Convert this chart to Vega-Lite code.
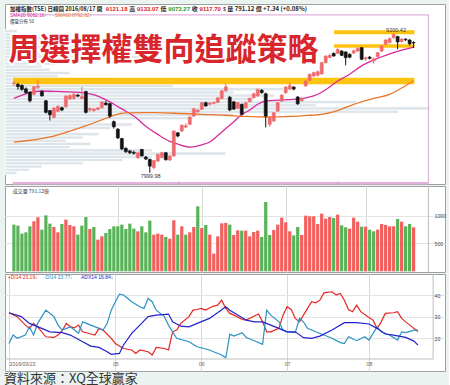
{
"$schema":"https://vega.github.io/schema/vega-lite/v6.json",
"background":"#eaf3ef",
"padding":{"left":4,"right":2,"top":3,"bottom":0},
"spacing":0,
"resolve":{"scale":{"color":"independent"}},
"title":{"text":"資料來源：XQ全球贏家","orient":"bottom","anchor":"start","fontSize":13,"font":"Noto Sans CJK TC","fontWeight":"normal","color":"#333333","offset":1},
"config":{"view":{"stroke":"#a0a0a0","fill":"#ffffff"},"axis":{"labelFont":"Liberation Sans"},"concat":{"spacing":0}},
"datasets":{
"k":[
{"i":0,"o":8768,"h":8790,"l":8748,"c":8772,"v":839,"u":0},
{"i":1,"o":8760,"h":8775,"l":8715,"c":8742,"v":821,"u":0},
{"i":2,"o":8752,"h":8760,"l":8705,"c":8718,"v":677,"u":0},
{"i":3,"o":8722,"h":8735,"l":8680,"c":8690,"v":701,"u":0},
{"i":4,"o":8695,"h":8700,"l":8605,"c":8620,"v":809,"u":0},
{"i":5,"o":8675,"h":8748,"l":8665,"c":8740,"v":899,"u":1},
{"i":6,"o":8735,"h":8800,"l":8720,"c":8745,"v":971,"u":1},
{"i":7,"o":8700,"h":8710,"l":8655,"c":8662,"v":749,"u":0},
{"i":8,"o":8620,"h":8625,"l":8510,"c":8520,"v":1007,"u":0},
{"i":9,"o":8535,"h":8540,"l":8450,"c":8500,"v":857,"u":0},
{"i":10,"o":8478,"h":8565,"l":8465,"c":8556,"v":797,"u":1},
{"i":11,"o":8528,"h":8580,"l":8520,"c":8572,"v":701,"u":1},
{"i":12,"o":8560,"h":8570,"l":8530,"c":8540,"v":851,"u":0},
{"i":13,"o":8568,"h":8668,"l":8560,"c":8660,"v":929,"u":1},
{"i":14,"o":8635,"h":8675,"l":8625,"c":8665,"v":833,"u":1},
{"i":15,"o":8640,"h":8690,"l":8630,"c":8675,"v":809,"u":1},
{"i":16,"o":8668,"h":8680,"l":8650,"c":8660,"v":659,"u":0},
{"i":17,"o":8640,"h":8738,"l":8632,"c":8655,"v":821,"u":0},
{"i":18,"o":8700,"h":8705,"l":8510,"c":8520,"v":977,"u":0},
{"i":19,"o":8540,"h":8565,"l":8525,"c":8552,"v":761,"u":1},
{"i":20,"o":8535,"h":8558,"l":8525,"c":8548,"v":797,"u":0},
{"i":21,"o":8545,"h":8565,"l":8538,"c":8558,"v":569,"u":1},
{"i":22,"o":8560,"h":8615,"l":8552,"c":8610,"v":629,"u":1},
{"i":23,"o":8600,"h":8620,"l":8580,"c":8585,"v":689,"u":0},
{"i":24,"o":8595,"h":8600,"l":8470,"c":8488,"v":761,"u":0},
{"i":25,"o":8440,"h":8450,"l":8380,"c":8395,"v":809,"u":0},
{"i":26,"o":8375,"h":8385,"l":8290,"c":8300,"v":809,"u":0},
{"i":27,"o":8295,"h":8300,"l":8195,"c":8205,"v":839,"u":0},
{"i":28,"o":8210,"h":8220,"l":8170,"c":8182,"v":761,"u":0},
{"i":29,"o":8188,"h":8195,"l":8160,"c":8172,"v":857,"u":0},
{"i":30,"o":8175,"h":8190,"l":8155,"c":8168,"v":767,"u":0},
{"i":31,"o":8130,"h":8180,"l":8120,"c":8172,"v":719,"u":1},
{"i":32,"o":8200,"h":8205,"l":8140,"c":8145,"v":809,"u":0},
{"i":33,"o":8135,"h":8145,"l":8110,"c":8118,"v":701,"u":0},
{"i":34,"o":8115,"h":8120,"l":7999.98,"c":8057,"v":911,"u":0},
{"i":35,"o":8045,"h":8110,"l":8030,"c":8105,"v":659,"u":1},
{"i":36,"o":8100,"h":8165,"l":8095,"c":8158,"v":677,"u":1},
{"i":37,"o":8130,"h":8180,"l":8125,"c":8172,"v":659,"u":1},
{"i":38,"o":8172,"h":8180,"l":8105,"c":8112,"v":617,"u":0},
{"i":39,"o":8110,"h":8150,"l":8100,"c":8144,"v":587,"u":1},
{"i":40,"o":8144,"h":8365,"l":8140,"c":8359,"v":917,"u":1},
{"i":41,"o":8344,"h":8350,"l":8305,"c":8316,"v":659,"u":0},
{"i":42,"o":8359,"h":8415,"l":8350,"c":8410,"v":809,"u":1},
{"i":43,"o":8393,"h":8425,"l":8385,"c":8405,"v":659,"u":0},
{"i":44,"o":8417,"h":8485,"l":8410,"c":8480,"v":701,"u":1},
{"i":45,"o":8488,"h":8560,"l":8480,"c":8551,"v":797,"u":1},
{"i":46,"o":8525,"h":8548,"l":8515,"c":8540,"v":1169,"u":0},
{"i":47,"o":8546,"h":8610,"l":8540,"c":8603,"v":779,"u":1},
{"i":48,"o":8603,"h":8612,"l":8570,"c":8575,"v":833,"u":0},
{"i":49,"o":8590,"h":8608,"l":8580,"c":8600,"v":659,"u":1},
{"i":50,"o":8598,"h":8612,"l":8590,"c":8605,"v":317,"u":1},
{"i":51,"o":8605,"h":8650,"l":8600,"c":8645,"v":629,"u":1},
{"i":52,"o":8640,"h":8715,"l":8632,"c":8705,"v":863,"u":1},
{"i":53,"o":8705,"h":8765,"l":8700,"c":8740,"v":869,"u":1},
{"i":54,"o":8650,"h":8660,"l":8530,"c":8540,"v":839,"u":0},
{"i":55,"o":8610,"h":8618,"l":8540,"c":8548,"v":653,"u":1},
{"i":56,"o":8555,"h":8610,"l":8550,"c":8603,"v":737,"u":1},
{"i":57,"o":8589,"h":8595,"l":8495,"c":8503,"v":731,"u":0},
{"i":58,"o":8560,"h":8610,"l":8550,"c":8603,"v":731,"u":1},
{"i":59,"o":8612,"h":8648,"l":8605,"c":8641,"v":629,"u":1},
{"i":60,"o":8646,"h":8690,"l":8640,"c":8680,"v":707,"u":1},
{"i":61,"o":8661,"h":8725,"l":8655,"c":8718,"v":731,"u":1},
{"i":62,"o":8710,"h":8720,"l":8680,"c":8690,"v":617,"u":0},
{"i":63,"o":8680,"h":8690,"l":8390,"c":8488,"v":1247,"u":0},
{"i":64,"o":8417,"h":8485,"l":8395,"c":8476,"v":653,"u":0},
{"i":65,"o":8445,"h":8525,"l":8440,"c":8517,"v":743,"u":1},
{"i":66,"o":8531,"h":8610,"l":8525,"c":8603,"v":839,"u":1},
{"i":67,"o":8617,"h":8675,"l":8610,"c":8669,"v":965,"u":1},
{"i":68,"o":8689,"h":8745,"l":8680,"c":8738,"v":881,"u":1},
{"i":69,"o":8720,"h":8775,"l":8715,"c":8750,"v":719,"u":1},
{"i":70,"o":8738,"h":8745,"l":8710,"c":8720,"v":647,"u":0},
{"i":71,"o":8652,"h":8660,"l":8585,"c":8594,"v":797,"u":0},
{"i":72,"o":8620,"h":8650,"l":8612,"c":8641,"v":653,"u":1},
{"i":73,"o":8747,"h":8800,"l":8740,"c":8790,"v":1001,"u":1},
{"i":74,"o":8796,"h":8855,"l":8790,"c":8848,"v":989,"u":1},
{"i":75,"o":8833,"h":8870,"l":8825,"c":8862,"v":989,"u":1},
{"i":76,"o":8840,"h":8880,"l":8830,"c":8870,"v":851,"u":1},
{"i":77,"o":8850,"h":8955,"l":8845,"c":8948,"v":1037,"u":1},
{"i":78,"o":8948,"h":9010,"l":8940,"c":9005,"v":947,"u":1},
{"i":79,"o":8992,"h":9025,"l":8985,"c":9010,"v":977,"u":1},
{"i":80,"o":9028,"h":9035,"l":9000,"c":9005,"v":959,"u":0},
{"i":81,"o":9028,"h":9070,"l":9020,"c":9063,"v":1019,"u":1},
{"i":82,"o":9048,"h":9055,"l":9005,"c":9011,"v":827,"u":0},
{"i":83,"o":9040,"h":9045,"l":8925,"c":8991,"v":791,"u":0},
{"i":84,"o":9020,"h":9028,"l":8985,"c":8995,"v":767,"u":1},
{"i":85,"o":9030,"h":9060,"l":9025,"c":9050,"v":965,"u":1},
{"i":86,"o":9048,"h":9078,"l":9040,"c":9071,"v":893,"u":1},
{"i":87,"o":9077,"h":9082,"l":8970,"c":8977,"v":803,"u":0},
{"i":88,"o":8980,"h":9000,"l":8965,"c":8990,"v":803,"u":1},
{"i":89,"o":8995,"h":9005,"l":8975,"c":8985,"v":749,"u":0},
{"i":90,"o":8962,"h":8990,"l":8940,"c":8980,"v":719,"u":0},
{"i":91,"o":9000,"h":9040,"l":8995,"c":9034,"v":749,"u":1},
{"i":92,"o":9048,"h":9100,"l":9040,"c":9091,"v":851,"u":1},
{"i":93,"o":9106,"h":9150,"l":9100,"c":9143,"v":833,"u":1},
{"i":94,"o":9120,"h":9165,"l":9115,"c":9155,"v":809,"u":1},
{"i":95,"o":9163,"h":9200.42,"l":9155,"c":9192,"v":809,"u":1},
{"i":96,"o":9172,"h":9180,"l":9063,"c":9126,"v":941,"u":0},
{"i":97,"o":9130,"h":9160,"l":9120,"c":9150,"v":893,"u":1},
{"i":98,"o":9150,"h":9158,"l":9135,"c":9145,"v":809,"u":0},
{"i":99,"o":9143,"h":9150,"l":9095,"c":9110.36,"v":851,"u":0},
{"i":100,"o":9121.18,"h":9133.07,"l":9073.27,"c":9117.70,"v":791.12,"u":1}
],
"sma":[
{"s":"20","i":0,"v":8641},{"s":"20","i":3,"v":8680},{"s":"20","i":7,"v":8704},{"s":"20","i":11,"v":8700},{"s":"20","i":15,"v":8695},{"s":"20","i":18,"v":8686},{"s":"20","i":21,"v":8660},{"s":"20","i":24,"v":8610},{"s":"20","i":26,"v":8570},{"s":"20","i":28,"v":8530},{"s":"20","i":30,"v":8488},{"s":"20","i":33,"v":8400},{"s":"20","i":36,"v":8330},{"s":"20","i":39,"v":8270},{"s":"20","i":41,"v":8247},{"s":"20","i":44,"v":8221},{"s":"20","i":47,"v":8240},{"s":"20","i":49,"v":8265},{"s":"20","i":51,"v":8320},{"s":"20","i":53,"v":8380},{"s":"20","i":55,"v":8440},{"s":"20","i":57,"v":8500},{"s":"20","i":59,"v":8540},{"s":"20","i":61,"v":8590},{"s":"20","i":63,"v":8617},{"s":"20","i":66,"v":8625},{"s":"20","i":70,"v":8632},{"s":"20","i":73,"v":8645},{"s":"20","i":75,"v":8661},{"s":"20","i":78,"v":8715},{"s":"20","i":81,"v":8790},{"s":"20","i":84,"v":8848},{"s":"20","i":87,"v":8920},{"s":"20","i":90,"v":8970},{"s":"20","i":93,"v":9010},{"s":"20","i":96,"v":9045},{"s":"20","i":98,"v":9065},{"s":"20","i":100,"v":9082.16},
{"s":"60","i":0,"v":8264},{"s":"60","i":10,"v":8316},{"s":"60","i":18,"v":8404},{"s":"60","i":22,"v":8455},{"s":"60","i":25,"v":8494},{"s":"60","i":28,"v":8515},{"s":"60","i":35,"v":8517},{"s":"60","i":42,"v":8510},{"s":"60","i":47,"v":8503},{"s":"60","i":53,"v":8495},{"s":"60","i":58,"v":8485},{"s":"60","i":63,"v":8480},{"s":"60","i":68,"v":8484},{"s":"60","i":71,"v":8488},{"s":"60","i":74,"v":8495},{"s":"60","i":77,"v":8503},{"s":"60","i":81,"v":8535},{"s":"60","i":85,"v":8589},{"s":"60","i":90,"v":8640},{"s":"60","i":94,"v":8675},{"s":"60","i":97,"v":8730},{"s":"60","i":100,"v":8792.62}
],
"band":[
{"a":-0.2,"b":100.2,"lo":8762,"hi":8818},
{"a":80.1,"b":100.2,"lo":9192,"hi":9227},
{"a":80.1,"b":100.2,"lo":9077,"hi":9106}
],
"mk":[{"i":41.2},{"i":81}],
"prof":[
{"lo":7984.7,"hi":8012.5,"pv":120},{"lo":8012.5,"hi":8040.2,"pv":240},{"lo":8040.2,"hi":8068.0,"pv":370},{"lo":8068.0,"hi":8095.7,"pv":780},{"lo":8095.7,"hi":8123.4,"pv":1180},{"lo":8123.4,"hi":8151.2,"pv":1470},{"lo":8151.2,"hi":8178.9,"pv":2210},{"lo":8178.9,"hi":8206.7,"pv":1470},{"lo":8206.7,"hi":8234.4,"pv":650},{"lo":8234.4,"hi":8262.1,"pv":860},{"lo":8262.1,"hi":8289.9,"pv":610},{"lo":8289.9,"hi":8317.6,"pv":780},{"lo":8317.6,"hi":8345.4,"pv":940},{"lo":8345.4,"hi":8373.1,"pv":650},{"lo":8373.1,"hi":8400.8,"pv":1060},{"lo":8400.8,"hi":8428.6,"pv":1270},{"lo":8428.6,"hi":8456.3,"pv":940},{"lo":8456.3,"hi":8484.1,"pv":1880},{"lo":8484.1,"hi":8511.8,"pv":2290},{"lo":8511.8,"hi":8539.5,"pv":3930},{"lo":8539.5,"hi":8567.3,"pv":4250},{"lo":8567.3,"hi":8595.0,"pv":3110},{"lo":8595.0,"hi":8622.8,"pv":3520},{"lo":8622.8,"hi":8650.5,"pv":2490},{"lo":8650.5,"hi":8678.2,"pv":2700},{"lo":8678.2,"hi":8706.0,"pv":2290},{"lo":8706.0,"hi":8733.7,"pv":2780},{"lo":8733.7,"hi":8761.5,"pv":1680},{"lo":8761.5,"hi":8789.2,"pv":1270},{"lo":8789.2,"hi":8816.9,"pv":1060},{"lo":8816.9,"hi":8844.7,"pv":530},{"lo":8844.7,"hi":8872.4,"pv":650},{"lo":8872.4,"hi":8900.2,"pv":450},{"lo":8900.2,"hi":8927.9,"pv":370},{"lo":8927.9,"hi":8955.6,"pv":530},{"lo":8955.6,"hi":8983.4,"pv":860},{"lo":8983.4,"hi":9011.1,"pv":1470},{"lo":9011.1,"hi":9038.9,"pv":1180},{"lo":9038.9,"hi":9066.6,"pv":1270},{"lo":9066.6,"hi":9094.3,"pv":860},{"lo":9094.3,"hi":9122.1,"pv":780},{"lo":9122.1,"hi":9149.8,"pv":940},{"lo":9149.8,"hi":9177.6,"pv":530},{"lo":9177.6,"hi":9205.3,"pv":290},{"lo":9205.3,"hi":9233.0,"pv":120}
],
"dmi":[
{"s":"p","i":0,"v":31.8},{"s":"p","i":2,"v":30},{"s":"p","i":4,"v":26.1},{"s":"p","i":5,"v":24.6},{"s":"p","i":6,"v":26.9},{"s":"p","i":7,"v":25.3},{"s":"p","i":9,"v":20.7},{"s":"p","i":11,"v":20.4},{"s":"p","i":12,"v":21.5},{"s":"p","i":13,"v":23.5},{"s":"p","i":14,"v":26.9},{"s":"p","i":15,"v":25.3},{"s":"p","i":16,"v":24.8},{"s":"p","i":17,"v":26.1},{"s":"p","i":18,"v":23},{"s":"p","i":20,"v":22},{"s":"p","i":21,"v":21.5},{"s":"p","i":22,"v":24.6},{"s":"p","i":23,"v":23.8},{"s":"p","i":25,"v":20},{"s":"p","i":26,"v":17.6},{"s":"p","i":28,"v":15.3},{"s":"p","i":30,"v":14.6},{"s":"p","i":31,"v":13},{"s":"p","i":32,"v":14.6},{"s":"p","i":34,"v":13.8},{"s":"p","i":35,"v":12.3},{"s":"p","i":36,"v":15.8},{"s":"p","i":38,"v":15.3},{"s":"p","i":39,"v":14.6},{"s":"p","i":40,"v":23},{"s":"p","i":41,"v":23.8},{"s":"p","i":42,"v":26.9},{"s":"p","i":44,"v":30},{"s":"p","i":45,"v":33},{"s":"p","i":46,"v":33.3},{"s":"p","i":47,"v":33.8},{"s":"p","i":48,"v":33},{"s":"p","i":50,"v":34.9},{"s":"p","i":51,"v":35.3},{"s":"p","i":52,"v":37.6},{"s":"p","i":53,"v":33.8},{"s":"p","i":54,"v":31.5},{"s":"p","i":55,"v":30.7},{"s":"p","i":57,"v":28.7},{"s":"p","i":58,"v":28.4},{"s":"p","i":60,"v":30.3},{"s":"p","i":61,"v":31.2},{"s":"p","i":62,"v":27.6},{"s":"p","i":63,"v":23},{"s":"p","i":64,"v":23},{"s":"p","i":66,"v":24.6},{"s":"p","i":67,"v":30.7},{"s":"p","i":68,"v":34.6},{"s":"p","i":69,"v":33.3},{"s":"p","i":70,"v":29.2},{"s":"p","i":71,"v":27.6},{"s":"p","i":73,"v":33.8},{"s":"p","i":74,"v":36.9},{"s":"p","i":75,"v":36.4},{"s":"p","i":76,"v":37.6},{"s":"p","i":77,"v":41},{"s":"p","i":79,"v":41.5},{"s":"p","i":80,"v":40},{"s":"p","i":81,"v":40.7},{"s":"p","i":82,"v":37.6},{"s":"p","i":83,"v":33.3},{"s":"p","i":84,"v":32.3},{"s":"p","i":85,"v":35.3},{"s":"p","i":86,"v":32.3},{"s":"p","i":88,"v":29.6},{"s":"p","i":89,"v":28.4},{"s":"p","i":90,"v":24.6},{"s":"p","i":91,"v":27.6},{"s":"p","i":92,"v":31.5},{"s":"p","i":94,"v":31.8},{"s":"p","i":95,"v":32.3},{"s":"p","i":96,"v":29.2},{"s":"p","i":97,"v":27.6},{"s":"p","i":98,"v":26.1},{"s":"p","i":99,"v":24.6},{"s":"p","i":100,"v":23.19},
{"s":"m","i":0,"v":17.6},{"s":"m","i":1,"v":21.5},{"s":"m","i":2,"v":20},{"s":"m","i":4,"v":21.5},{"s":"m","i":5,"v":25.3},{"s":"m","i":6,"v":21.5},{"s":"m","i":7,"v":26.9},{"s":"m","i":9,"v":33},{"s":"m","i":11,"v":30},{"s":"m","i":12,"v":26.1},{"s":"m","i":13,"v":23.8},{"s":"m","i":15,"v":25.3},{"s":"m","i":16,"v":23.8},{"s":"m","i":17,"v":22.3},{"s":"m","i":18,"v":27.6},{"s":"m","i":20,"v":26.1},{"s":"m","i":22,"v":24.6},{"s":"m","i":23,"v":23.8},{"s":"m","i":24,"v":26.9},{"s":"m","i":25,"v":33},{"s":"m","i":26,"v":36.9},{"s":"m","i":27,"v":40.4},{"s":"m","i":28,"v":40},{"s":"m","i":30,"v":36.9},{"s":"m","i":32,"v":34.6},{"s":"m","i":33,"v":33.8},{"s":"m","i":34,"v":38.4},{"s":"m","i":35,"v":36.9},{"s":"m","i":36,"v":33},{"s":"m","i":38,"v":30},{"s":"m","i":39,"v":26.1},{"s":"m","i":40,"v":23},{"s":"m","i":41,"v":20},{"s":"m","i":44,"v":18.4},{"s":"m","i":46,"v":16.1},{"s":"m","i":49,"v":14.6},{"s":"m","i":50,"v":13.8},{"s":"m","i":52,"v":12.3},{"s":"m","i":53,"v":11},{"s":"m","i":54,"v":21.9},{"s":"m","i":55,"v":21},{"s":"m","i":57,"v":22.6},{"s":"m","i":58,"v":20.4},{"s":"m","i":60,"v":18.9},{"s":"m","i":62,"v":17.2},{"s":"m","i":63,"v":33},{"s":"m","i":64,"v":30.7},{"s":"m","i":66,"v":27.6},{"s":"m","i":67,"v":23.8},{"s":"m","i":68,"v":23},{"s":"m","i":70,"v":22.6},{"s":"m","i":71,"v":29.2},{"s":"m","i":72,"v":27.6},{"s":"m","i":73,"v":24.6},{"s":"m","i":75,"v":23},{"s":"m","i":77,"v":21.5},{"s":"m","i":79,"v":20},{"s":"m","i":81,"v":18},{"s":"m","i":82,"v":17.6},{"s":"m","i":83,"v":20.7},{"s":"m","i":85,"v":18.9},{"s":"m","i":87,"v":20.7},{"s":"m","i":88,"v":19.2},{"s":"m","i":90,"v":25.3},{"s":"m","i":91,"v":23},{"s":"m","i":93,"v":21.5},{"s":"m","i":95,"v":19.2},{"s":"m","i":96,"v":23},{"s":"m","i":97,"v":22.6},{"s":"m","i":99,"v":23.8},{"s":"m","i":100,"v":23.77},
{"s":"a","i":0,"v":31.8},{"s":"a","i":3,"v":30},{"s":"a","i":5,"v":26.9},{"s":"a","i":8,"v":24.6},{"s":"a","i":10,"v":23},{"s":"a","i":13,"v":22.6},{"s":"a","i":15,"v":21.5},{"s":"a","i":18,"v":18.4},{"s":"a","i":20,"v":16.4},{"s":"a","i":22,"v":15.8},{"s":"a","i":24,"v":13.8},{"s":"a","i":25,"v":12.6},{"s":"a","i":27,"v":13},{"s":"a","i":28,"v":16.9},{"s":"a","i":30,"v":22.3},{"s":"a","i":32,"v":26.1},{"s":"a","i":34,"v":30},{"s":"a","i":36,"v":30.7},{"s":"a","i":39,"v":31.2},{"s":"a","i":40,"v":27.6},{"s":"a","i":42,"v":25.6},{"s":"a","i":44,"v":25.3},{"s":"a","i":46,"v":26.9},{"s":"a","i":49,"v":29.2},{"s":"a","i":51,"v":31.8},{"s":"a","i":53,"v":34.6},{"s":"a","i":54,"v":33},{"s":"a","i":56,"v":30.7},{"s":"a","i":58,"v":28.4},{"s":"a","i":60,"v":27.6},{"s":"a","i":62,"v":27.6},{"s":"a","i":64,"v":26.1},{"s":"a","i":66,"v":24.6},{"s":"a","i":68,"v":23},{"s":"a","i":70,"v":23},{"s":"a","i":72,"v":20.3},{"s":"a","i":74,"v":20},{"s":"a","i":76,"v":21},{"s":"a","i":79,"v":23.8},{"s":"a","i":82,"v":27.2},{"s":"a","i":85,"v":27.2},{"s":"a","i":88,"v":26.6},{"s":"a","i":90,"v":24.6},{"s":"a","i":92,"v":22},{"s":"a","i":94,"v":21.5},{"s":"a","i":97,"v":20.4},{"s":"a","i":99,"v":18.7},{"s":"a","i":100,"v":16.84}
]
},
"vconcat":[
{
"width":440,"height":180,
"layer":[
{"data":{"name":"prof"},"mark":{"type":"rect","color":"#dde4ea","stroke":"#ffffff","strokeWidth":0.7},
 "encoding":{"x":{"field":"pv","type":"quantitative","scale":{"domain":[0,4400],"nice":false,"zero":false},"axis":null},"x2":{"datum":0},
 "y":{"field":"lo","type":"quantitative","scale":{"domain":[7903,9453],"nice":false,"zero":false},"axis":null},"y2":{"field":"hi"}}},
{"layer":[
 {"data":{"name":"band"},"mark":{"type":"rect","color":"#ffc20e"},
  "encoding":{"x":{"field":"a","type":"quantitative","scale":{"domain":[-0.978,106.6],"nice":false,"zero":false},"axis":null},"x2":{"field":"b"},
  "y":{"field":"lo","type":"quantitative","scale":{"domain":[7903,9453],"nice":false,"zero":false},"axis":null},"y2":{"field":"hi"}}},
 {"data":{"name":"sma"},"mark":{"type":"line","strokeWidth":1.3,"interpolate":"monotone"},
  "encoding":{"x":{"field":"i","type":"quantitative","scale":{"domain":[-0.978,106.6],"nice":false,"zero":false},"axis":null},
  "y":{"field":"v","type":"quantitative","scale":{"domain":[7903,9453],"nice":false,"zero":false},"axis":null},
  "color":{"field":"s","type":"nominal","scale":{"domain":["20","60"],"range":["#d52b9d","#e9772b"]},"legend":null}}},
 {"data":{"name":"k"},"mark":{"type":"rule","strokeWidth":1},
  "encoding":{"x":{"field":"i","type":"quantitative","scale":{"domain":[-0.978,106.6],"nice":false,"zero":false},"axis":null},
  "y":{"field":"l","type":"quantitative","scale":{"domain":[7903,9453],"nice":false,"zero":false},"axis":null},"y2":{"field":"h"},
  "color":{"condition":{"test":"datum.c >= datum.o","value":"#ef6a6c"},"value":"#111111"}}},
 {"data":{"name":"k"},"mark":{"type":"bar","size":3,"strokeWidth":0.6},
  "encoding":{"x":{"field":"i","type":"quantitative","scale":{"domain":[-0.978,106.6],"nice":false,"zero":false},
   "axis":{"values":[26,47,68,88],"grid":true,"gridColor":"#dadada","labels":false,"ticks":false,"domain":false,"title":null}},
  "y":{"field":"o","type":"quantitative","scale":{"domain":[7903,9453],"nice":false,"zero":false},
   "axis":{"orient":"right","offset":-12,"values":[7957,8030,8103,8176,8249,8322,8395,8468,8541,8614,8687,8760,8833,8906,8979,9052,9125,9198,9271,9344],"format":"d","grid":true,"gridColor":"#e4e4e4","ticks":false,"domain":false,"labelFontSize":5.2,"labelColor":"#444444","labelPadding":1,"title":null}},
  "y2":{"field":"c"},
  "color":{"condition":{"test":"datum.c >= datum.o","value":"#ef6a6c"},"value":"#111111"},
  "stroke":{"condition":{"test":"datum.c >= datum.o","value":"#ef6a6c"},"value":"#111111"}}},
 {"data":{"values":[{}]},"mark":{"type":"rule","color":"#e2b2dd","strokeWidth":1.2},"encoding":{"x":{"datum":-0.3,"type":"quantitative"},"x2":{"datum":103.7},"y":{"datum":9359,"type":"quantitative"}}},
 {"data":{"values":[{}]},"mark":{"type":"rule","color":"#e2b2dd","strokeWidth":2.5},"encoding":{"x":{"datum":-0.3,"type":"quantitative"},"x2":{"datum":103.7},"y":{"datum":7910,"type":"quantitative"}}},
 {"data":{"values":[{}]},"mark":{"type":"rule","color":"#d9a9d5","strokeWidth":1},"encoding":{"x":{"datum":103.7,"type":"quantitative"},"y":{"datum":7910,"type":"quantitative"},"y2":{"datum":9359}}},
 {"data":{"name":"mk"},"mark":{"type":"text","text":"△","align":"center","baseline":"middle","fontSize":4,"color":"#9a9a9a","font":"DejaVu Sans"},"encoding":{"x":{"field":"i","type":"quantitative"},"y":{"datum":7922,"type":"quantitative"}}},
 {"data":{"values":[{}]},"mark":{"type":"text","text":"9200.42","align":"center","baseline":"middle","fontSize":5.5,"color":"#333333","font":"Liberation Sans"},"encoding":{"x":{"datum":95.6,"type":"quantitative"},"y":{"datum":9225,"type":"quantitative"}}},
 {"data":{"values":[{}]},"mark":{"type":"text","text":"7999.98","align":"center","baseline":"middle","fontSize":5.5,"color":"#333333","font":"Liberation Sans"},"encoding":{"x":{"datum":34.2,"type":"quantitative"},"y":{"datum":7975,"type":"quantitative"}}},
 {"data":{"values":[{}]},"mark":{"type":"text","text":"加權指數(TSE) 日線圖 2016/08/17 開","align":"left","baseline":"middle","fontSize":5.5,"fontWeight":"bold","color":"#222222","font":"Noto Sans CJK TC"},"encoding":{"x":{"datum":-0.98,"type":"quantitative"},"y":{"datum":9410,"type":"quantitative"}}},
 {"data":{"values":[{}]},"mark":{"type":"text","text":"9121.18","align":"left","baseline":"middle","fontSize":6,"fontWeight":"bold","color":"#e01b1b","font":"Liberation Sans"},"encoding":{"x":{"datum":23.0,"type":"quantitative"},"y":{"datum":9410,"type":"quantitative"}}},
 {"data":{"values":[{}]},"mark":{"type":"text","text":"高","align":"left","baseline":"middle","fontSize":6,"fontWeight":"bold","color":"#222222","font":"Noto Sans CJK TC"},"encoding":{"x":{"datum":28.85,"type":"quantitative"},"y":{"datum":9410,"type":"quantitative"}}},
 {"data":{"values":[{}]},"mark":{"type":"text","text":"9133.07","align":"left","baseline":"middle","fontSize":6,"fontWeight":"bold","color":"#e01b1b","font":"Liberation Sans"},"encoding":{"x":{"datum":30.8,"type":"quantitative"},"y":{"datum":9410,"type":"quantitative"}}},
 {"data":{"values":[{}]},"mark":{"type":"text","text":"低","align":"left","baseline":"middle","fontSize":6,"fontWeight":"bold","color":"#222222","font":"Noto Sans CJK TC"},"encoding":{"x":{"datum":36.67,"type":"quantitative"},"y":{"datum":9410,"type":"quantitative"}}},
 {"data":{"values":[{}]},"mark":{"type":"text","text":"9073.27","align":"left","baseline":"middle","fontSize":6,"fontWeight":"bold","color":"#1c9a2c","font":"Liberation Sans"},"encoding":{"x":{"datum":38.63,"type":"quantitative"},"y":{"datum":9410,"type":"quantitative"}}},
 {"data":{"values":[{}]},"mark":{"type":"text","text":"收","align":"left","baseline":"middle","fontSize":6,"fontWeight":"bold","color":"#222222","font":"Noto Sans CJK TC"},"encoding":{"x":{"datum":44.5,"type":"quantitative"},"y":{"datum":9410,"type":"quantitative"}}},
 {"data":{"values":[{}]},"mark":{"type":"text","text":"9117.70","align":"left","baseline":"middle","fontSize":6,"fontWeight":"bold","color":"#e01b1b","font":"Liberation Sans"},"encoding":{"x":{"datum":46.45,"type":"quantitative"},"y":{"datum":9410,"type":"quantitative"}}},
 {"data":{"values":[{}]},"mark":{"type":"text","text":"s 量 791.12 億 +7.34 (+0.08%)","align":"left","baseline":"middle","fontSize":6,"fontWeight":"bold","color":"#222222","font":"Noto Sans CJK TC"},"encoding":{"x":{"datum":52.3,"type":"quantitative"},"y":{"datum":9410,"type":"quantitative"}}},
 {"data":{"values":[{}]},"mark":{"type":"text","text":"SMA20 9082.16↑","align":"left","baseline":"middle","fontSize":4.8,"color":"#d52b9d","font":"Liberation Sans"},"encoding":{"x":{"datum":-0.98,"type":"quantitative"},"y":{"datum":9346,"type":"quantitative"}}},
 {"data":{"values":[{}]},"mark":{"type":"text","text":"SMA60 8792.62↑","align":"left","baseline":"middle","fontSize":4.8,"color":"#e9772b","font":"Liberation Sans"},"encoding":{"x":{"datum":10.3,"type":"quantitative"},"y":{"datum":9346,"type":"quantitative"}}},
 {"data":{"values":[{}]},"mark":{"type":"text","text":"價量分佈 50","align":"left","baseline":"middle","fontSize":4.5,"color":"#333333","font":"Noto Sans CJK TC"},"encoding":{"x":{"datum":-0.98,"type":"quantitative"},"y":{"datum":9294,"type":"quantitative"}}},
 {"data":{"values":[{}]},"mark":{"type":"text","text":"周選擇權雙向追蹤策略","align":"center","baseline":"middle","fontSize":31,"fontWeight":"bold","color":"#ffffff","stroke":"#ffffff","strokeWidth":4,"font":"Noto Sans CJK TC"},"encoding":{"x":{"datum":37.4,"type":"quantitative"},"y":{"datum":9046,"type":"quantitative"}}},
 {"data":{"values":[{}]},"mark":{"type":"text","text":"周選擇權雙向追蹤策略","align":"center","baseline":"middle","fontSize":31,"fontWeight":"bold","color":"#d7262c","font":"Noto Sans CJK TC"},"encoding":{"x":{"datum":37.4,"type":"quantitative"},"y":{"datum":9046,"type":"quantitative"}}}
]}
],
"resolve":{"scale":{"x":"independent"}}
},
{
"width":440,"height":86,
"layer":[
 {"data":{"name":"k"},"mark":{"type":"bar","size":3.2},
  "encoding":{"x":{"field":"i","type":"quantitative","scale":{"domain":[-0.978,106.6],"nice":false,"zero":false},
   "axis":{"values":[26,47,68,88],"grid":true,"gridColor":"#dadada","labels":false,"ticks":false,"domain":false,"title":null}},
  "y":{"field":"v","type":"quantitative","scale":{"domain":[-12.6,1534],"nice":false,"zero":false},
   "axis":{"orient":"right","offset":-12,"values":[500,1000],"format":"d","grid":true,"gridColor":"#e4e4e4","ticks":false,"domain":false,"labelFontSize":5.2,"labelColor":"#444444","labelPadding":1,"title":null}},
  "y2":{"datum":0},
  "color":{"condition":{"test":"datum.u == 1","value":"#f25f5d"},"value":"#58b358"}}},
 {"data":{"values":[{}]},"mark":{"type":"text","text":"成交量 791.12億","align":"left","baseline":"middle","fontSize":5,"color":"#333333","font":"Noto Sans CJK TC"},"encoding":{"x":{"datum":-0.3,"type":"quantitative"},"y":{"datum":1440,"type":"quantitative"}}},
 {"data":{"values":[{}]},"mark":{"type":"rule","color":"#bdbdbd","strokeWidth":1},"encoding":{"x":{"datum":103.7,"type":"quantitative"},"y":{"datum":-12.6,"type":"quantitative"},"y2":{"datum":1534}}}
]
},
{
"width":440,"height":97,
"layer":[
 {"data":{"name":"dmi"},"mark":{"type":"line","strokeWidth":1.2},
  "encoding":{"x":{"field":"i","type":"quantitative","scale":{"domain":[-0.978,106.6],"nice":false,"zero":false},
   "axis":{"values":[0,26,47,68,88],"labelExpr":"datum.value == 0 ? '2016/03/23' : datum.value == 26 ? '05' : datum.value == 47 ? '06' : datum.value == 68 ? '07' : '08'","grid":true,"gridColor":"#dadada","ticks":false,"domain":false,"labelFontSize":5.2,"labelColor":"#666666","labelFlush":20,"offset":-12,"labelPadding":2,"title":null}},
  "y":{"field":"v","type":"quantitative","scale":{"domain":[4.9,49.7],"nice":false,"zero":false},
   "axis":{"orient":"right","offset":-12,"values":[20,30,40],"grid":true,"gridColor":"#e4e4e4","ticks":false,"domain":false,"labelFontSize":5.2,"labelColor":"#444444","labelPadding":1,"title":null}},
  "color":{"field":"s","type":"nominal","scale":{"domain":["p","m","a"],"range":["#e42521","#2b92c3","#2222cc"]},"legend":null}}},
 {"data":{"values":[{}]},"mark":{"type":"rule","color":"#bdbdbd","strokeWidth":1},"encoding":{"x":{"datum":103.7,"type":"quantitative"},"y":{"datum":10.45,"type":"quantitative"},"y2":{"datum":49.7}}},
 {"data":{"values":[{}]},"mark":{"type":"rule","color":"#bdbdbd","strokeWidth":1},"encoding":{"x":{"datum":-0.978,"type":"quantitative"},"x2":{"datum":103.7},"y":{"datum":10.45,"type":"quantitative"}}},
 {"data":{"values":[{}]},"mark":{"type":"text","text":"+DI14 23.19↓","align":"left","baseline":"middle","fontSize":5,"color":"#e42521","font":"Liberation Sans"},"encoding":{"x":{"datum":-0.3,"type":"quantitative"},"y":{"datum":48.2,"type":"quantitative"}}},
 {"data":{"values":[{}]},"mark":{"type":"text","text":"-DI14 23.77↓","align":"left","baseline":"middle","fontSize":5,"color":"#2b92c3","font":"Liberation Sans"},"encoding":{"x":{"datum":8.6,"type":"quantitative"},"y":{"datum":48.2,"type":"quantitative"}}},
 {"data":{"values":[{}]},"mark":{"type":"text","text":"ADX14 16.84↓","align":"left","baseline":"middle","fontSize":5,"color":"#2222cc","font":"Liberation Sans"},"encoding":{"x":{"datum":17.6,"type":"quantitative"},"y":{"datum":48.2,"type":"quantitative"}}}
]
}
]
}
